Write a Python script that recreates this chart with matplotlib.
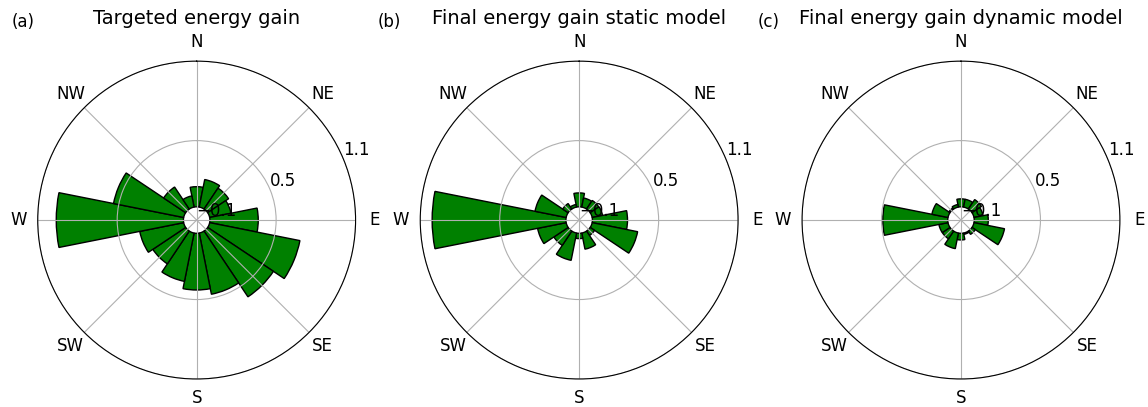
import numpy as np
import matplotlib
matplotlib.use("Agg")
import matplotlib.pyplot as plt

# 16 direction sectors, clockwise from North
directions = ['N', 'NNE', 'NE', 'ENE', 'E', 'ESE', 'SE', 'SSE',
              'S', 'SSW', 'SW', 'WSW', 'W', 'WNW', 'NW', 'NNW']
compass_labels = ['N', 'NE', 'E', 'SE', 'S', 'SW', 'W', 'NW']

targeted = [0.152, 0.212, 0.19, 0.164, 0.365, 0.695, 0.597, 0.471,
            0.428, 0.372, 0.298, 0.338, 0.96, 0.54, 0.2, 0.086]
static_model = [0.105, 0.07, 0.078, 0.08, 0.265, 0.35, 0.04, 0.124,
                0.04, 0.21, 0.13, 0.22, 1.01, 0.24, 0.05, 0.02]
dynamic_model = [0.06, 0.06, 0.086, 0.07, 0.106, 0.235, 0.03, 0.01,
                 0.05, 0.12, 0.07, 0.07, 0.49, 0.124, 0.01, 0.02]

titles = ['Targeted energy gain', 'Final energy gain static model',
          'Final energy gain dynamic model']
panel_tags = ['(a)', '(b)', '(c)']
series = [targeted, static_model, dynamic_model]

theta = np.deg2rad(np.arange(len(directions)) * 22.5)
width = np.deg2rad(22.5)

fig = plt.figure(figsize=(11.48, 4.07), dpi=100)
lefts = [0.0328, 0.366, 0.6986]
tag_x = [12, 378, 758]

for i in range(3):
    ax = fig.add_axes([lefts[i], 0.0688, 0.277, 0.781], projection='polar')
    ax.set_theta_zero_location('N')
    ax.set_theta_direction(-1)
    ax.bar(theta, series[i], width=width, bottom=0, color='green',
           edgecolor='black', linewidth=1)
    ax.set_ylim(-0.1, 1.1)
    ax.set_yticks([-0.1, 0.5, 1.1])
    ax.set_yticklabels(['\u22120.1', '0.5', '1.1'], fontsize=12)
    ax.set_rlabel_position(67.5)
    ax.set_xticks(np.deg2rad(np.arange(0, 360, 45)))
    ax.set_xticklabels(compass_labels, fontsize=12)
    ax.grid(True, color='#b0b0b0', linewidth=0.8)
    ax.set_title(titles[i], fontsize=14)
    fig.text(tag_x[i] / 1148, 1 - 27 / 407, panel_tags[i], fontsize=12)

fig.savefig('out.png', dpi=100)
